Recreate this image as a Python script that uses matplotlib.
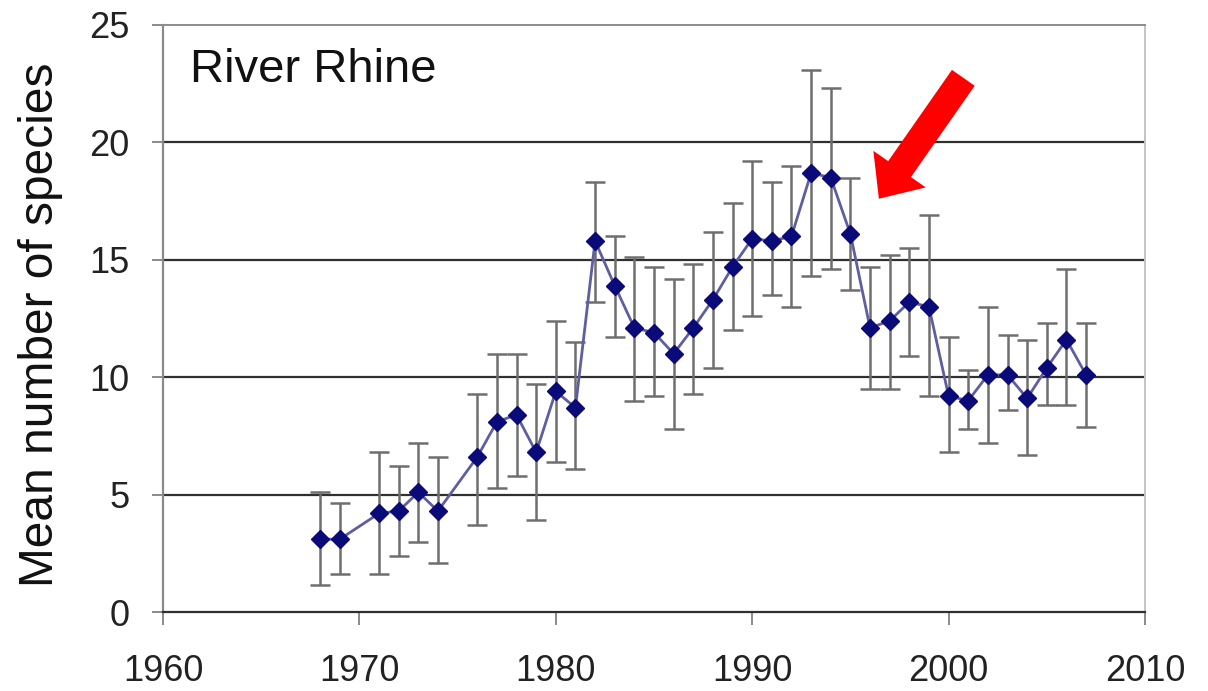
import matplotlib
matplotlib.use("Agg")
import matplotlib.pyplot as plt

plt.rcParams['font.family'] = ['Liberation Sans', 'DejaVu Sans']

# Survey years and mean species counts with error-bar limits
years = [1968, 1969, 1971, 1972, 1973, 1974, 1976, 1977, 1978, 1979,
         1980, 1981, 1982, 1983, 1984, 1985, 1986, 1987, 1988, 1989,
         1990, 1991, 1992, 1993, 1994, 1995, 1996, 1997, 1998, 1999,
         2000, 2001, 2002, 2003, 2004, 2005, 2006, 2007]
mean_species = [3.1, 3.1, 4.2, 4.3, 5.1, 4.3, 6.6, 8.1, 8.4, 6.8,
                9.4, 8.7, 15.8, 13.9, 12.1, 11.9, 11.0, 12.1, 13.3, 14.7,
                15.9, 15.8, 16.0, 18.7, 18.5, 16.1, 12.1, 12.4, 13.2, 13.0,
                9.2, 9.0, 10.1, 10.1, 9.1, 10.4, 11.6, 10.1]
upper = [5.1, 4.65, 6.8, 6.2, 7.2, 6.6, 9.3, 11.0, 11.0, 9.7,
         12.4, 11.5, 18.3, 16.0, 15.1, 14.7, 14.2, 14.8, 16.2, 17.4,
         19.2, 18.3, 19.0, 23.1, 22.3, 18.5, 14.7, 15.2, 15.5, 16.9,
         11.7, 10.3, 13.0, 11.8, 11.6, 12.3, 14.6, 12.3]
lower = [1.15, 1.6, 1.6, 2.4, 3.0, 2.1, 3.7, 5.3, 5.8, 3.9,
         6.4, 6.1, 13.2, 11.7, 9.0, 9.2, 7.8, 9.3, 10.4, 12.0,
         12.6, 13.5, 13.0, 14.3, 14.6, 13.7, 9.5, 9.5, 10.9, 9.2,
         6.8, 7.8, 7.2, 8.6, 6.7, 8.8, 8.8, 7.9]

x_ticks = [1960, 1970, 1980, 1990, 2000, 2010]
y_ticks = [0, 5, 10, 15, 20, 25]

err_low = [m - lo for m, lo in zip(mean_species, lower)]
err_high = [hi - m for m, hi in zip(mean_species, upper)]

W, H = 1208, 691
fig = plt.figure(figsize=(W / 100, H / 100), dpi=100)
ax = fig.add_axes([163 / W, 1 - 612 / H, (1145 - 163) / W, (612 - 25) / H])

# horizontal gridlines
for yv in y_ticks[1:-1]:
    ax.axhline(yv, color='#303030', lw=1.6, zorder=1)

ax.errorbar(years, mean_species, yerr=[err_low, err_high], fmt='none',
            ecolor='#6e6e6e', elinewidth=1.8, capsize=7.5, capthick=1.8, zorder=2)
ax.plot(years, mean_species, color='#5e5ea0', lw=2, zorder=3)
ax.plot(years, mean_species, linestyle='none', marker='D', markersize=9.5,
        color='#0a0a78', zorder=4)

ax.set_xlim(1960, 2010)
ax.set_ylim(0, 25)
ax.set_xticks(x_ticks)
ax.set_yticks(y_ticks)

ax.spines['top'].set_color('#8c8c8c')
ax.spines['top'].set_linewidth(1.4)
ax.spines['right'].set_color('#c4c4c4')
ax.spines['right'].set_linewidth(1.4)
ax.spines['left'].set_color('#8a8a8a')
ax.spines['left'].set_linewidth(1.6)
ax.spines['bottom'].set_color('#303030')
ax.spines['bottom'].set_linewidth(1.6)

ax.tick_params(axis='y', direction='out', length=8, width=1.4, color='#8a8a8a',
               labelsize=26, labelcolor='#222222', pad=16)
ax.tick_params(axis='x', direction='out', length=9.5, width=1.4, color='#8a8a8a',
               labelsize=26, labelcolor='#222222', pad=21)

ax.set_ylabel('Mean number of species', fontsize=34.5, color='#111111')
ax.yaxis.set_label_coords(-0.102, 0.49)

ax.text(0.0275, 0.9027, 'River Rhine', transform=ax.transAxes, fontsize=34,
        color='#111111', ha='left', va='baseline')

# highlight arrow pointing at the mid-1990s decline
ax.annotate('', xy=(1996.45, 17.6), xytext=(2000.75, 22.75),
            arrowprops=dict(arrowstyle='simple,head_length=26,head_width=46,tail_width=20',
                            mutation_scale=1, fc='#ff0000', ec='none',
                            shrinkA=0, shrinkB=0),
            zorder=5)

fig.savefig('out.png', dpi=100, facecolor='white')
